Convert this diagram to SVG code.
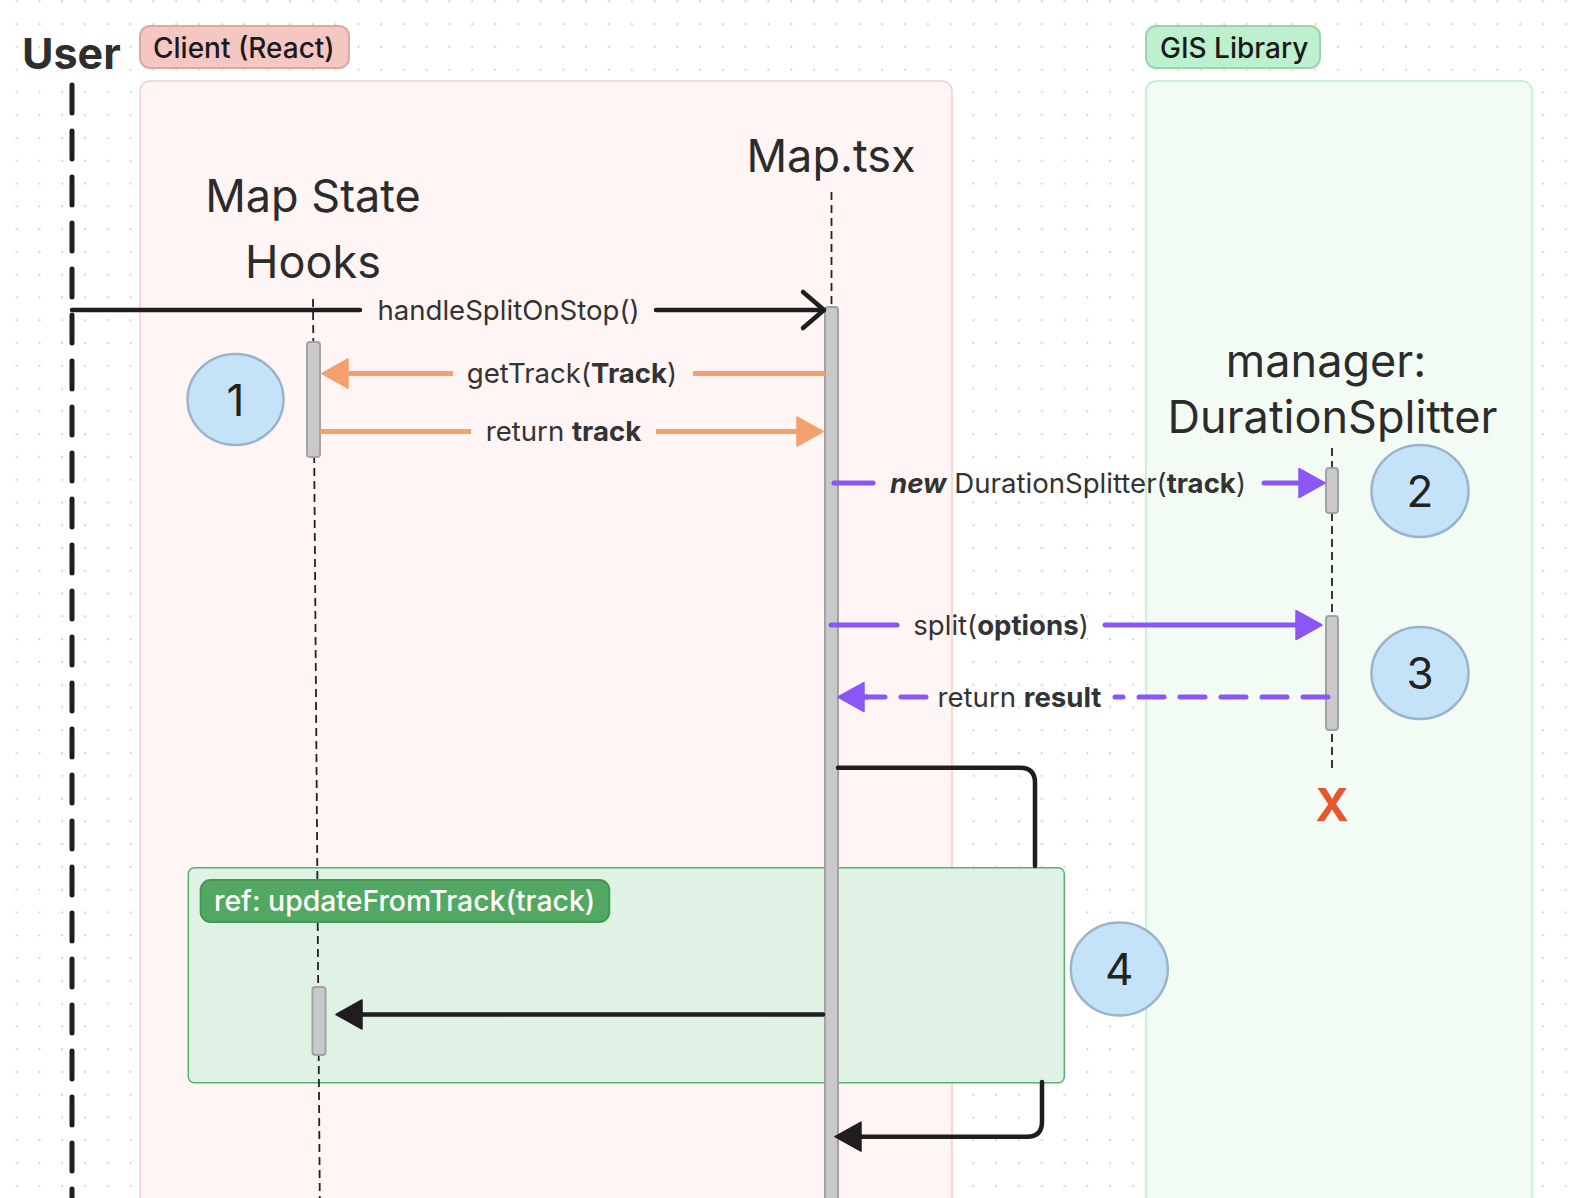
<svg xmlns="http://www.w3.org/2000/svg" width="1578" height="1198" viewBox="0 0 1578 1198">
<style>
.ff{font-family:Inter,"Noto Sans","Liberation Sans",sans-serif}
.part{font-size:45px;fill:#2b2b2b;text-anchor:middle}
.lbl{font-size:27.6px;fill:#333;text-anchor:middle}
.badge{font-size:28px;font-weight:500;fill:#1a1a1a}
.life{stroke:#222;stroke-width:1.8;stroke-dasharray:8 5;fill:none}
.act{fill:#c9c9c9;stroke:#a3a3a3;stroke-width:2}
.orange{stroke:#f3a06c;stroke-width:5;fill:none}
.purple{stroke:#8b56f5;stroke-width:5;fill:none;stroke-linecap:round}
.blk{stroke:#1e1e1e;stroke-width:4.5;fill:none;stroke-linecap:round;stroke-linejoin:round}
.num{fill:#c4e2f8;stroke:#9bb4cc;stroke-width:2.5}
.numt{font-size:44px;fill:#222;text-anchor:middle}
</style>
<defs>
<pattern id="dots" x="15.5" y="0.2" width="22.78" height="22.78" patternUnits="userSpaceOnUse">
<circle cx="1.2" cy="1.2" r="1.1" fill="#d2d2d2"/>
</pattern>
<marker id="triO" viewBox="-1 -1 28 31" refX="0" refY="14.5" markerWidth="28" markerHeight="31" markerUnits="userSpaceOnUse" orient="auto">
<path d="M0,0 L26,14.5 L0,29 Z" fill="#f3a06c" stroke="#f3a06c" stroke-width="1.5" stroke-linejoin="round"/>
</marker>
<marker id="triP" viewBox="-1 -1 28 31" refX="0" refY="14.5" markerWidth="28" markerHeight="31" markerUnits="userSpaceOnUse" orient="auto">
<path d="M0,0 L26,14.5 L0,29 Z" fill="#8b56f5" stroke="#8b56f5" stroke-width="1.5" stroke-linejoin="round"/>
</marker>
<marker id="triK" viewBox="-1 -1 28 31" refX="0" refY="14.5" markerWidth="28" markerHeight="31" markerUnits="userSpaceOnUse" orient="auto">
<path d="M0,0 L26,14.5 L0,29 Z" fill="#1e1e1e" stroke="#1e1e1e" stroke-width="1.5" stroke-linejoin="round"/>
</marker>
<marker id="chev" viewBox="-26 -22 30 44" refX="0" refY="0" markerWidth="30" markerHeight="44" markerUnits="userSpaceOnUse" orient="auto">
<path d="M-21,-18 L0,0 L-21,18" fill="none" stroke="#1e1e1e" stroke-width="4.5" stroke-linecap="round" stroke-linejoin="round"/>
</marker>
</defs>

<rect x="0" y="0" width="1578" height="1198" fill="#ffffff"/>
<rect x="0" y="0" width="1578" height="1198" fill="url(#dots)"/>

<g id="group-client">
<rect x="140" y="81" width="812" height="1150" rx="10" fill="#fff5f4" stroke="#f6cdc9" stroke-width="1.5"/>
<rect x="140" y="26" width="209" height="42" rx="10" fill="#f5c7c3" stroke="#dca9a5" stroke-width="2"/>
<text class="ff badge" x="153" y="57.5">Client (React)</text>
</g>

<g id="group-gis">
<rect x="1146" y="81" width="386" height="1150" rx="10" fill="#f3fbf5" stroke="#bdedcb" stroke-width="1.5"/>
<rect x="1146" y="26" width="174" height="42" rx="10" fill="#bdf0cd" stroke="#9dd3ab" stroke-width="2"/>
<text class="ff badge" x="1160" y="57.5">GIS Library</text>
</g>

<g id="ref-frame">
<rect x="188.3" y="867.7" width="876" height="215" rx="6" fill="#e0f1e5" stroke="#55b46a" stroke-width="1.5"/>
</g>

<g id="user">
<text class="ff" x="22" y="69" font-size="43" font-weight="700" fill="#2e2e2e">User</text>
<line x1="72" y1="85" x2="72" y2="1200" stroke="#1e1e1e" stroke-width="5" stroke-dasharray="28 18" stroke-linecap="round"/>
</g>

<g id="map-state-hooks">
<text class="ff part" x="313" y="211.5">Map State</text>
<text class="ff part" x="313" y="278">Hooks</text>
<line class="life" x1="313" y1="299" x2="319.8" y2="1200"/>
<rect class="act" x="307" y="342" width="13" height="115" rx="3"/>
<rect class="act" x="312.5" y="987" width="13" height="68" rx="3"/>
</g>

<g id="ref-label">
<rect x="200.7" y="880" width="408.6" height="42" rx="10" fill="#52a862" stroke="#449a55" stroke-width="2"/>
<text class="ff" x="214" y="910.5" font-size="28.4" font-weight="500" fill="#ffffff">ref: updateFromTrack(track)</text>
</g>

<g id="map-tsx">
<text class="ff part" x="831" y="171.5">Map.tsx</text>
<line class="life" x1="831.5" y1="192" x2="831.5" y2="307"/>
<rect class="act" x="825" y="307" width="13" height="900" rx="3"/>
</g>

<g id="duration-splitter">
<text class="ff part" x="1326" y="376.5" font-size="44">manager:</text>
<text class="ff part" x="1332.5" y="433" font-size="44">DurationSplitter</text>
<line class="life" x1="1332" y1="448" x2="1332" y2="770"/>
<rect class="act" x="1326" y="468" width="12" height="45" rx="3"/>
<rect class="act" x="1326" y="616" width="12" height="114" rx="3"/>
<text class="ff" x="1332" y="820.5" font-size="45" font-weight="700" fill="#e4572e" text-anchor="middle">X</text>
</g>

<g id="connectors">
<line class="blk" x1="72" y1="310" x2="360" y2="310"/>
<line class="blk" x1="656" y1="310" x2="824" y2="310" marker-end="url(#chev)"/>
<text class="ff lbl" x="508.5" y="320">handleSplitOnStop()</text>

<line class="orange" x1="825" y1="373.5" x2="693" y2="373.5"/>
<line class="orange" x1="453" y1="373.5" x2="348" y2="373.5" marker-end="url(#triO)"/>
<text class="ff lbl" x="572" y="383">getTrack(<tspan font-weight="700">Track</tspan>)</text>

<line class="orange" x1="320" y1="431.5" x2="471" y2="431.5"/>
<line class="orange" x1="656" y1="431.5" x2="797" y2="431.5" marker-end="url(#triO)"/>
<text class="ff lbl" x="563.5" y="441">return <tspan font-weight="700">track</tspan></text>

<line class="purple" x1="834" y1="483" x2="873" y2="483"/>
<line class="purple" x1="1264" y1="483" x2="1299" y2="483" marker-end="url(#triP)"/>
<text class="ff lbl" x="1068" y="492.5"><tspan font-weight="700" font-style="italic">new</tspan> DurationSplitter(<tspan font-weight="700">track</tspan>)</text>

<line class="purple" x1="831" y1="625" x2="897" y2="625"/>
<line class="purple" x1="1105" y1="625" x2="1296" y2="625" marker-end="url(#triP)"/>
<text class="ff lbl" x="1001" y="634.5">split(<tspan font-weight="700">options</tspan>)</text>

<line class="purple" x1="1328" y1="697" x2="1115" y2="697" stroke-dasharray="25 16"/>
<line class="purple" x1="926" y1="697" x2="866" y2="697" stroke-dasharray="25 16"/>
<line x1="868" y1="697" x2="864" y2="697" stroke="#8b56f5" stroke-width="5" marker-end="url(#triP)"/>
<text class="ff lbl" x="1019.5" y="706.5">return <tspan font-weight="700">result</tspan></text>

<path class="blk" d="M838 767.7 H1020 Q1035 767.7 1035 782.7 V866"/>
<path class="blk" d="M1042 1082 V1121.7 Q1042 1136.7 1027 1136.7 H861" marker-end="url(#triK)"/>

<line class="blk" x1="823" y1="1014.5" x2="362" y2="1014.5" marker-end="url(#triK)"/>
</g>

<g id="badge-1">
<ellipse class="num" cx="235.5" cy="399.5" rx="48" ry="45.5"/>
<text class="ff numt" x="235.5" y="415.5">1</text>
</g>
<g id="badge-2">
<ellipse class="num" cx="1420" cy="491" rx="48.5" ry="46"/>
<text class="ff numt" x="1420" y="507">2</text>
</g>
<g id="badge-3">
<ellipse class="num" cx="1420" cy="673" rx="48.5" ry="46"/>
<text class="ff numt" x="1420" y="689">3</text>
</g>
<g id="badge-4">
<ellipse class="num" cx="1119.3" cy="969" rx="48.5" ry="46.5"/>
<text class="ff numt" x="1119.3" y="985">4</text>
</g>
</svg>
